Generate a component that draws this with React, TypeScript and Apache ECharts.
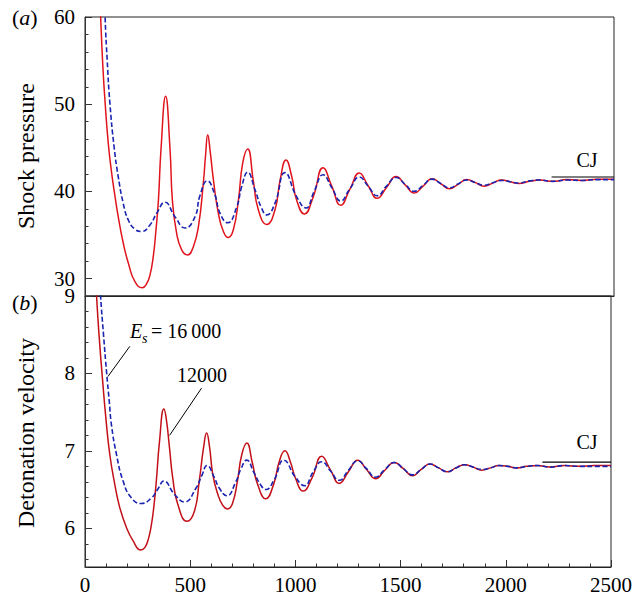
import React, { useEffect, useRef } from 'react';
import * as echarts from 'echarts';

const FONT = 'Liberation Serif, DejaVu Serif, serif';

// Panel (a): shock pressure, Es = 12000 (red) and Es = 16000 (blue dashed)
const redTopX = [62, 74, 84, 95, 110, 126, 142, 157, 181, 205, 236, 271, 290, 307, 323, 334, 347, 359, 381, 402, 413, 433, 457, 485, 512, 536, 559, 570, 580, 592, 607, 630, 654, 677, 701, 725, 745, 769, 795, 819, 859, 898, 922, 950, 977, 1000, 1037, 1079, 1125, 1167, 1208, 1252, 1296, 1338, 1381, 1425, 1470, 1513, 1556, 1598, 1640, 1681, 1722, 1763, 1804, 1845, 1886, 1927, 1969, 2010, 2051, 2100, 2150, 2210, 2280, 2350, 2420, 2500];
const redTopY = [68, 60, 54.5, 50.2, 45.5, 42.1, 39.4, 37.1, 34.05, 31.75, 29.65, 28.95, 29.35, 30.4, 32.6, 35.2, 39.0, 44.75, 50.9, 44.75, 39.0, 35.2, 33.3, 32.7, 33.66, 35.95, 40.9, 44.2, 46.5, 44.5, 41.3, 37.5, 35.4, 34.7, 35.6, 39.0, 43.2, 44.85, 41.3, 37.9, 36.2, 37.9, 41.3, 43.6, 41.7, 39.0, 37.4, 39.4, 42.7, 40.55, 38.4, 40.25, 42.1, 40.65, 39.2, 40.45, 41.7, 40.75, 39.8, 40.6, 41.45, 40.9, 40.3, 40.8, 41.35, 41.0, 40.6, 40.95, 41.3, 41.1, 40.9, 41.15, 41.3, 41.15, 41.35, 41.25, 41.4, 41.4];

const blueTopX = [80, 95, 105, 118, 138, 157, 181, 205, 236, 268, 307, 339, 378, 425, 473, 520, 543, 578, 614, 638, 674, 717, 740, 769, 803, 835, 859, 898, 945, 1000, 1044, 1083, 1125, 1167, 1208, 1252, 1296, 1338, 1381, 1425, 1470, 1513, 1556, 1598, 1640, 1681, 1722, 1763, 1804, 1845, 1886, 1927, 1969, 2010, 2051, 2100, 2150, 2210, 2280, 2350, 2420, 2500];
const blueTopY = [72, 60, 55, 50, 45, 41.7, 38.6, 36.7, 35.65, 35.4, 36.15, 37.5, 38.75, 37.1, 35.8, 37.1, 39.5, 41.2, 39.6, 37.5, 36.4, 38.2, 40.5, 42.2, 40.2, 38.05, 37.3, 38.65, 42.15, 39.4, 38.1, 40.0, 41.9, 40.4, 38.9, 40.3, 41.65, 40.6, 39.5, 40.6, 41.6, 40.8, 40.0, 40.7, 41.4, 40.9, 40.4, 40.85, 41.3, 41.0, 40.7, 41.0, 41.25, 41.1, 40.95, 41.2, 41.3, 41.15, 41.3, 41.25, 41.35, 41.35];

// Panel (b): detonation velocity
const redBotX = [45, 55, 68, 84, 100, 118, 142, 165, 197, 228, 265, 284, 301, 314, 326, 339, 354, 375, 386, 402, 417, 441, 485, 520, 543, 564, 578, 592, 607, 630, 654, 677, 701, 725, 745, 769, 795, 819, 859, 898, 922, 950, 977, 1000, 1037, 1079, 1125, 1167, 1208, 1252, 1296, 1338, 1381, 1425, 1470, 1513, 1556, 1598, 1640, 1681, 1722, 1763, 1804, 1845, 1886, 1927, 1969, 2010, 2051, 2100, 2150, 2210, 2280, 2350, 2420, 2500];
const redBotY = [9.6, 9.0, 8.45, 7.9, 7.4, 6.95, 6.56, 6.27, 6.01, 5.84, 5.72, 5.75, 5.86, 6.02, 6.25, 6.61, 7.12, 7.54, 7.42, 7.03, 6.65, 6.31, 6.09, 6.22, 6.61, 7.05, 7.23, 7.05, 6.7, 6.45, 6.3, 6.25, 6.32, 6.62, 6.95, 7.1, 6.85, 6.58, 6.38, 6.58, 6.85, 7.0, 6.85, 6.65, 6.48, 6.65, 6.93, 6.75, 6.58, 6.73, 6.88, 6.76, 6.64, 6.75, 6.85, 6.77, 6.68, 6.76, 6.83, 6.78, 6.73, 6.78, 6.82, 6.79, 6.75, 6.78, 6.81, 6.8, 6.78, 6.8, 6.81, 6.79, 6.81, 6.8, 6.81, 6.81];

const blueBotX = [62, 74, 88, 103, 115, 126, 150, 181, 221, 268, 315, 345, 375, 425, 473, 528, 555, 580, 614, 638, 674, 717, 740, 769, 803, 835, 859, 898, 945, 1000, 1044, 1083, 1125, 1167, 1208, 1252, 1296, 1338, 1381, 1425, 1470, 1513, 1556, 1598, 1640, 1681, 1722, 1763, 1804, 1845, 1886, 1927, 1969, 2010, 2051, 2100, 2150, 2210, 2280, 2350, 2420, 2500];
const blueBotY = [9.6, 9.0, 8.5, 8.0, 7.65, 7.33, 6.95, 6.61, 6.39, 6.32, 6.39, 6.5, 6.61, 6.44, 6.34, 6.52, 6.68, 6.81, 6.66, 6.52, 6.42, 6.6, 6.76, 6.88, 6.72, 6.56, 6.5, 6.62, 6.88, 6.66, 6.55, 6.72, 6.86, 6.74, 6.62, 6.75, 6.87, 6.77, 6.66, 6.76, 6.85, 6.77, 6.69, 6.76, 6.83, 6.78, 6.73, 6.78, 6.82, 6.79, 6.76, 6.78, 6.81, 6.8, 6.78, 6.8, 6.81, 6.79, 6.81, 6.8, 6.8, 6.8];

const cjTopX = [2205, 2500];
const cjTopY = [41.65, 41.65];
const cjBotX = [2174, 2500];
const cjBotY = [6.855, 6.855];

const leaderEsX = [109, 213];
const leaderEsY = [7.96, 8.35];
const leader12X = [402, 554];
const leader12Y = [7.2, 7.81];

const xTickLabels = ['0', '500', '1000', '1500', '2000', '2500'];

const zip = (xs: number[], ys: number[]) => xs.map((x, i) => [x, ys[i]]);

const RED_TOP = '#e0141c';
const RED_BOT = '#c20f18';
const BLUE = '#1a24b0';

const tickRich = { t: { fontFamily: FONT, fontSize: 21, color: '#000' } };

export default function App() {
  const ref = useRef<HTMLDivElement>(null);
  useEffect(() => {
    if (!ref.current) return;
    const chart = echarts.init(ref.current, undefined, { renderer: 'svg' });
    const majorY = (gridIndex: number, min: number, max: number, fmt: (v: number) => string) => ({
      type: 'value', gridIndex, min, max, splitNumber: 3, position: 'left',
      axisLine: { show: true, lineStyle: { color: '#333', width: 1 } },
      axisTick: { show: true, inside: true, length: 7, lineStyle: { color: '#333' } },
      minorTick: { show: false },
      splitLine: { show: false },
      axisLabel: {
        color: '#000', fontSize: 21, fontFamily: FONT, margin: 10, showMinLabel: false,
        formatter: (v: number) => { const s = fmt(v); return s ? `{t|${s}}` : ''; },
        rich: tickRich,
      },
    });
    const minorY = (gridIndex: number, min: number, max: number, split: number) => ({
      type: 'value', gridIndex, min, max, splitNumber: split, position: 'left',
      axisLine: { show: false },
      axisTick: { show: true, inside: true, length: 3.5, lineStyle: { color: '#333' } },
      splitLine: { show: false },
      axisLabel: { show: false },
    });
    const lineBase = { type: 'line', smooth: 0.5, showSymbol: false, clip: true };
    const titleStyle = { fontSize: 24, fontFamily: FONT, fill: '#000', align: 'center', verticalAlign: 'middle' };
    chart.setOption({
      animation: false,
      backgroundColor: '#fff',
      textStyle: { fontFamily: FONT },
      grid: [
        { left: 85, top: 17, width: 529, height: 279, show: true, borderColor: '#222', borderWidth: 1, backgroundColor: 'transparent' },
        { left: 85, top: 296, width: 529, height: 274, show: true, borderColor: '#222', borderWidth: 1, backgroundColor: 'transparent' },
      ],
      xAxis: [
        {
          type: 'value', gridIndex: 0, min: 0, max: 2500, interval: 500,
          axisLine: { show: true, lineStyle: { color: '#222' } },
          axisTick: { show: false }, axisLabel: { show: false }, splitLine: { show: false },
        },
        {
          type: 'value', gridIndex: 1, min: 0, max: 2500, interval: 500,
          axisLine: { show: true, lineStyle: { color: '#222' } },
          axisTick: { show: true, inside: true, length: 7, lineStyle: { color: '#333' } },
          minorTick: { show: true, splitNumber: 5, length: 3.5, lineStyle: { color: '#333' } },
          splitLine: { show: false },
          axisLabel: {
            color: '#000', fontSize: 21, fontFamily: FONT, margin: 7, rich: tickRich,
            formatter: (v: number) => { const s = xTickLabels[Math.round(v / 500)]; return s ? `{t|${s}}` : ''; },
          },
        },
      ],
      yAxis: [
        majorY(0, 28, 60, (v: number) => (v % 10 === 0 ? String(v) : '')),
        minorY(0, 28, 60, 16),
        majorY(1, 5.5, 9, (v: number) => (Math.abs(v - Math.round(v)) < 1e-6 ? String(Math.round(v)) : '')),
        minorY(1, 5.5, 9, 17),
      ],
      series: [
        { ...lineBase, xAxisIndex: 0, yAxisIndex: 0, data: zip(redTopX, redTopY), lineStyle: { color: RED_TOP, width: 1.5 } },
        { ...lineBase, xAxisIndex: 0, yAxisIndex: 0, data: zip(blueTopX, blueTopY), lineStyle: { color: BLUE, width: 1.6, type: [5, 2.5] } },
        { type: 'line', xAxisIndex: 0, yAxisIndex: 0, data: zip(cjTopX, cjTopY), showSymbol: false, lineStyle: { color: '#000', width: 1.2 } },
        { ...lineBase, xAxisIndex: 1, yAxisIndex: 2, data: zip(redBotX, redBotY), lineStyle: { color: RED_BOT, width: 1.5 } },
        { ...lineBase, xAxisIndex: 1, yAxisIndex: 2, data: zip(blueBotX, blueBotY), lineStyle: { color: BLUE, width: 1.6, type: [5, 2.5] } },
        { type: 'line', xAxisIndex: 1, yAxisIndex: 2, data: zip(cjBotX, cjBotY), showSymbol: false, lineStyle: { color: '#000', width: 1.2 } },
        { type: 'line', xAxisIndex: 1, yAxisIndex: 2, data: zip(leaderEsX, leaderEsY), showSymbol: false, lineStyle: { color: '#000', width: 1 } },
        { type: 'line', xAxisIndex: 1, yAxisIndex: 2, data: zip(leader12X, leader12Y), showSymbol: false, lineStyle: { color: '#000', width: 1 } },
      ],
      graphic: [
        { type: 'text', x: 26, y: 156, rotation: Math.PI / 2, style: { text: 'Shock pressure', ...titleStyle } },
        { type: 'text', x: 26, y: 433, rotation: Math.PI / 2, style: { text: 'Detonation velocity', ...titleStyle } },
        { type: 'text', left: 12, top: 6, style: { text: '{p|(}{i|a}{p|)}', rich: { p: { fontSize: 22, fontFamily: FONT, fill: '#000' }, i: { fontSize: 22, fontFamily: FONT, fontStyle: 'italic', fill: '#000' } } } },
        { type: 'text', left: 12, top: 291, style: { text: '{p|(}{i|b}{p|)}', rich: { p: { fontSize: 22, fontFamily: FONT, fill: '#000' }, i: { fontSize: 22, fontFamily: FONT, fontStyle: 'italic', fill: '#000' } } } },
        { type: 'text', x: 587, y: 160, style: { text: 'CJ', fontSize: 20, fontFamily: FONT, fill: '#000', align: 'center', verticalAlign: 'middle' } },
        { type: 'text', x: 587, y: 442, style: { text: 'CJ', fontSize: 20, fontFamily: FONT, fill: '#000', align: 'center', verticalAlign: 'middle' } },
        { type: 'text', x: 130, y: 331, style: { text: 'E', fontSize: 20, fontFamily: FONT, fontStyle: 'italic', fill: '#000', align: 'left', verticalAlign: 'middle' } },
        { type: 'text', x: 142, y: 338, style: { text: 's', fontSize: 14, fontFamily: FONT, fontStyle: 'italic', fill: '#000', align: 'left', verticalAlign: 'middle' } },
        { type: 'text', x: 151, y: 331, style: { text: '= 16\u2009000', fontSize: 20, fontFamily: FONT, fill: '#000', align: 'left', verticalAlign: 'middle' } },
        { type: 'text', x: 177, y: 375, style: { text: '12000', fontSize: 20, fontFamily: FONT, fill: '#000', align: 'left', verticalAlign: 'middle' } },
      ],
    });
    return () => chart.dispose();
  }, []);
  return <div ref={ref} style={{ width: 635, height: 595, position: 'absolute', left: 0, top: 0 }} />;
}
